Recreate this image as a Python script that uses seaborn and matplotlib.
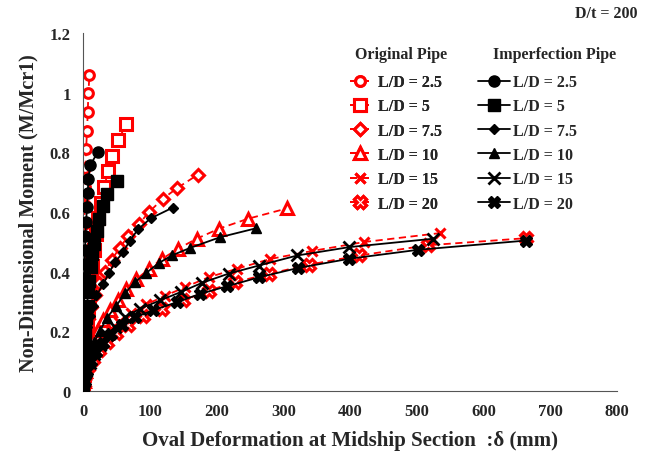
import matplotlib
matplotlib.use("Agg")
import matplotlib.pyplot as plt
import seaborn as sns
import pandas as pd

# ------------------------------
# data  (x = oval deformation mm, y = M/Mcr1)
# ------------------------------
ld_labels = ["L/D = 2.5", "L/D = 5", "L/D = 7.5", "L/D = 10", "L/D = 15", "L/D = 20"]

orig_x_25 = [0, 0.1, 0.3, 0.5, 0.7, 0.9, 1.1, 1.4, 1.7, 2, 2.5, 3, 3.5, 4.5, 6, 7, 8, 9.5]
orig_y_25 = [0, 0.062, 0.125, 0.187, 0.25, 0.312, 0.375, 0.437, 0.5, 0.56, 0.622, 0.685,
             0.748, 0.81, 0.872, 0.935, 0.999, 1.058]
imp_x_25 = [0, 0.1, 0.3, 0.5, 0.7, 1, 1.3, 1.6, 2, 2.5, 3, 3.5, 4.5, 6, 7, 8, 10.5, 22]
imp_y_25 = [0, 0.048, 0.095, 0.143, 0.19, 0.238, 0.285, 0.333, 0.38, 0.426, 0.473, 0.52,
            0.567, 0.617, 0.665, 0.71, 0.756, 0.80]

orig_x_5 = [0, 1, 2.5, 4, 5.5, 7.5, 9.5, 11.5, 14, 16.5, 19.5, 23, 27, 32, 37, 44, 53, 64]
orig_y_5 = [0, 0.053, 0.105, 0.158, 0.21, 0.263, 0.315, 0.368, 0.42, 0.473, 0.525, 0.578,
            0.63, 0.683, 0.736, 0.787, 0.84, 0.893]
imp_x_5 = [0, 0.3, 0.8, 1.5, 2.5, 3.5, 4.5, 6, 7.5, 9.5, 11.5, 14, 17, 20.5, 24, 30, 36.5, 51]
imp_y_5 = [0, 0.045, 0.085, 0.125, 0.165, 0.205, 0.245, 0.286, 0.33, 0.37, 0.415, 0.46,
           0.493, 0.537, 0.577, 0.62, 0.661, 0.705]

orig_x_75 = [0, 0.1, 0.4, 1.2, 2.6, 4.8, 8, 12.3, 17.8, 24.6, 33, 43, 55, 68, 84, 99, 119, 141, 172]
orig_y_75 = [0, 0.04, 0.08, 0.12, 0.16, 0.2, 0.24, 0.28, 0.32, 0.36, 0.40, 0.44, 0.48, 0.52,
             0.56, 0.6, 0.643, 0.68, 0.725]
imp_x_75 = [0, 0.1, 0.4, 1.1, 2.3, 4, 6.5, 10, 14.5, 20, 30.5, 39, 48, 60, 70, 83, 101, 134]
imp_y_75 = [0, 0.036, 0.072, 0.107, 0.143, 0.18, 0.215, 0.25, 0.286, 0.32, 0.359, 0.396,
            0.432, 0.465, 0.504, 0.543, 0.578, 0.614]

orig_x_10 = [0, 0.8, 2.5, 5.5, 9.5, 15, 22, 30, 40, 52, 65, 80, 98, 118, 142, 170, 204, 247, 306]
orig_y_10 = [0, 0.034, 0.068, 0.102, 0.136, 0.17, 0.204, 0.238, 0.272, 0.306, 0.34, 0.374,
             0.408, 0.442, 0.476, 0.51, 0.544, 0.577, 0.612]
imp_x_10 = [0, 1, 3, 6, 11, 17, 25.5, 35.5, 50, 63, 78, 95, 113, 133, 160, 205, 259]
imp_y_10 = [0, 0.032, 0.065, 0.097, 0.13, 0.165, 0.202, 0.244, 0.286, 0.328, 0.365, 0.396,
            0.428, 0.454, 0.479, 0.515, 0.545]

orig_x_15 = [0, 1, 3, 6.5, 12, 19, 28, 40, 54, 72, 95, 122, 153, 188, 230, 280, 343, 421, 535]
orig_y_15 = [0, 0.029, 0.058, 0.087, 0.116, 0.145, 0.174, 0.203, 0.232, 0.262, 0.29, 0.318,
             0.348, 0.381, 0.409, 0.442, 0.469, 0.499, 0.529]
imp_x_15 = [0, 2, 5, 10, 17, 25, 35.5, 48, 63, 85, 115, 146, 178, 218, 263, 321, 399, 524]
imp_y_15 = [0, 0.033, 0.065, 0.095, 0.125, 0.155, 0.186, 0.214, 0.247, 0.275, 0.303, 0.331,
            0.362, 0.393, 0.42, 0.454, 0.482, 0.51]

orig_x_20 = [0, 1, 3.5, 8, 15, 24, 36, 50, 68, 90, 118, 150, 188, 228, 278, 338, 414, 516, 664]
orig_y_20 = [0, 0.025, 0.052, 0.08, 0.108, 0.137, 0.165, 0.193, 0.222, 0.25, 0.276, 0.303,
             0.336, 0.365, 0.392, 0.423, 0.454, 0.488, 0.512]
imp_x_20 = [0, 2.5, 6, 12, 20, 30, 42, 58, 78, 105, 140, 175, 216, 264, 322, 399, 502, 664]
imp_y_20 = [0, 0.034, 0.067, 0.1, 0.13, 0.16, 0.19, 0.22, 0.247, 0.27, 0.297, 0.325, 0.351,
            0.381, 0.412, 0.443, 0.473, 0.504]

orig_series = [(orig_x_25, orig_y_25), (orig_x_5, orig_y_5), (orig_x_75, orig_y_75),
               (orig_x_10, orig_y_10), (orig_x_15, orig_y_15), (orig_x_20, orig_y_20)]
imp_series = [(imp_x_25, imp_y_25), (imp_x_5, imp_y_5), (imp_x_75, imp_y_75),
              (imp_x_10, imp_y_10), (imp_x_15, imp_y_15), (imp_x_20, imp_y_20)]

markers = ["o", "s", "D", "^", "x", "X"]
orig_sizes = [7, 8, 6, 8, 7, 8]
imp_sizes = [8, 8, 5, 7, 8, 8]

sns.set_style("white")
plt.rcParams["font.family"] = ["Liberation Serif", "DejaVu Serif"]
plt.rcParams["font.weight"] = "bold"

fig = plt.figure(figsize=(6.49, 4.52), dpi=100)
ax = fig.add_axes([0.128, 0.133, 0.823, 0.792])

# original pipe: red open markers, dashed
orig_handles = []
for (xs, ys), m, ms in zip(orig_series, markers, orig_sizes):
    df = pd.DataFrame({"x": xs, "y": ys})
    sns.lineplot(data=df, x="x", y="y", ax=ax, sort=False, estimator=None,
                 color="#ff0000", linewidth=1.3,
                 marker=m, markersize=ms, markerfacecolor="white",
                 markeredgecolor="#ff0000", markeredgewidth=2.2, zorder=2)
    orig_handles.append(ax.lines[-1])

# imperfection pipe: black filled markers, solid
imp_handles = []
for (xs, ys), m, ms in zip(imp_series, markers, imp_sizes):
    df = pd.DataFrame({"x": xs, "y": ys})
    sns.lineplot(data=df, x="x", y="y", ax=ax, sort=False, estimator=None,
                 color="black", linewidth=1.3,
                 marker=m, markersize=ms, markerfacecolor="black",
                 markeredgecolor="black", markeredgewidth=2 if m == "x" else 1, zorder=3)
    imp_handles.append(ax.lines[-1])

for ln in orig_handles:
    ln.set_linestyle((0, (4, 2.5)))

ax.set_xlim(0, 800)
ax.set_ylim(0, 1.2)
ax.set_xticks(range(0, 801, 100))
ax.set_yticks([0, 0.2, 0.4, 0.6, 0.8, 1.0, 1.2])
ax.set_yticklabels(["0", "0.2", "0.4", "0.6", "0.8", "1", "1.2"])
ax.tick_params(axis="both", labelsize=12, direction="out", length=4, width=0.8,
               color="#555555", pad=5)
for lab in ax.get_xticklabels() + ax.get_yticklabels():
    lab.set_fontweight("bold")
for s in ["top", "right"]:
    ax.spines[s].set_visible(False)
for s in ["left", "bottom"]:
    ax.spines[s].set_color("#555555")
    ax.spines[s].set_linewidth(0.8)

ax.set_xlabel("Oval Deformation at Midship Section  :\u03b4 (mm)", fontsize=15,
              fontweight="bold", labelpad=8)
ax.set_ylabel("Non-Dimensional Moment (M/Mcr1)", fontsize=14.5, fontweight="bold", labelpad=8)

fig.text(0.982, 0.968, "D/t = 200", ha="right", va="center", fontsize=11.5, fontweight="bold")

# legend column titles
fig.text(0.618, 0.878, "Original Pipe", ha="center", va="center", fontsize=11.5, fontweight="bold")
fig.text(0.855, 0.878, "Imperfection Pipe", ha="center", va="center", fontsize=11.5,
         fontweight="bold")

leg_kw = dict(frameon=False, labelspacing=0.52, prop={"size": 11.5, "weight": "bold"},
              loc="upper left", borderaxespad=0)
leg1 = fig.legend(orig_handles, ld_labels, bbox_to_anchor=(0.530, 0.848),
                  handlelength=1.2, handletextpad=0.5, **leg_kw)
fig.add_artist(leg1)
leg2 = fig.legend(imp_handles, ld_labels, bbox_to_anchor=(0.727, 0.848),
                  handlelength=2.0, handletextpad=0.2, **leg_kw)

fig.savefig("out.png", dpi=100)
